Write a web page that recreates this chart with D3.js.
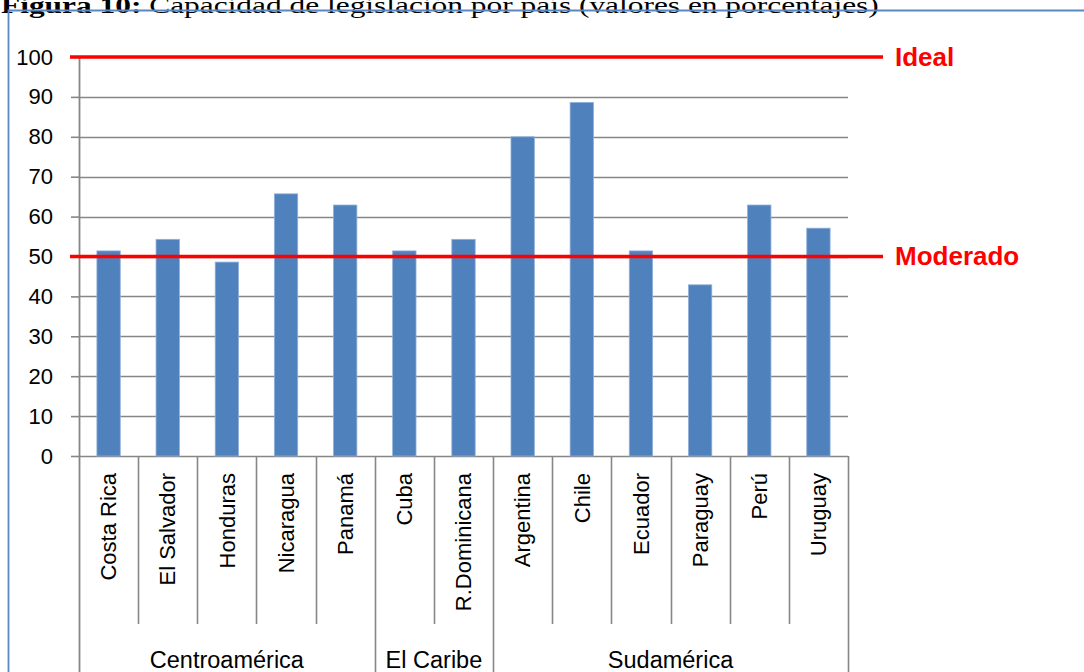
<!DOCTYPE html>
<html>
<head>
<meta charset="utf-8">
<script src="https://cdn.jsdelivr.net/npm/d3@7"></script>
<style>
  html, body { margin: 0; padding: 0; background: #fff; }
  svg { display: block; }
  text { font-family: "Liberation Sans", Arial, sans-serif; }
</style>
</head>
<body>
<svg id="chart" width="1084" height="672"></svg>
<script>
// Capacidad de legislación por país (%)
const categories = ["Costa Rica", "El Salvador", "Honduras", "Nicaragua", "Panamá",
                    "Cuba", "R.Dominicana",
                    "Argentina", "Chile", "Ecuador", "Paraguay", "Perú", "Uruguay"];
const values = [51.4, 54.3, 48.6, 65.7, 62.9, 51.4, 54.3, 80.0, 88.6, 51.4, 42.9, 62.9, 57.1];
const groupNames = ["Centroamérica", "El Caribe", "Sudamérica"];
const groupSizes = [5, 2, 6];
const yTicks = [0, 10, 20, 30, 40, 50, 60, 70, 80, 90, 100];
const refValues = [100, 50];
const refLabels = ["Ideal", "Moderado"];
const titleBold = "Figura 10:";
const titleRest = " Capacidad de legislación por país (valores en porcentajes)";

const W = 1084, H = 672;
const plot = { left: 79, right: 848, top: 57, bottom: 456 };
const svg = d3.select("#chart");

// Title (partly above the page edge)
const title = svg.append("text")
  .attr("x", 1).attr("y", 13)
  .style("font-family", "'Liberation Serif', 'Times New Roman', serif")
  .style("font-size", "24px").attr("fill", "#000");
title.append("tspan").attr("font-weight", "bold").text(titleBold);
title.append("tspan").text(titleRest);
const tw = title.node().getComputedTextLength();
title.attr("transform", `translate(1,0) scale(${878 / tw},1) translate(-1,0)`);

// Frame around the chart
svg.append("path")
  .attr("d", `M8.5,${H} L8.5,10.5 L${W},10.5`)
  .attr("fill", "none").attr("stroke", "#5b87c2").attr("stroke-width", 1.8);

// Scales
const x = d3.scaleBand().domain(categories).range([plot.left, plot.right]).padding(0);
const xBar = d3.scaleBand().domain(categories).range([plot.left, plot.right])
  .paddingInner(0.605).paddingOuter(0.3025);
const y = d3.scaleLinear().domain([0, 100]).range([plot.bottom, plot.top]);

// Horizontal gridlines
const gridColor = "#868686";
svg.append("g").selectAll("line")
  .data(yTicks.filter(t => t < 100))
  .join("line")
  .attr("x1", plot.left).attr("x2", plot.right)
  .attr("y1", d => Math.round(y(d)) + 0.5).attr("y2", d => Math.round(y(d)) + 0.5)
  .attr("stroke", gridColor).attr("stroke-width", 1.6);

// Y axis
const yAxis = svg.append("g")
  .attr("transform", `translate(${plot.left},0)`)
  .call(d3.axisLeft(y).tickValues(yTicks).tickSize(8).tickPadding(18).tickFormat(d3.format("d")));
yAxis.select(".domain").remove();
yAxis.selectAll(".tick line").attr("stroke", gridColor).attr("stroke-width", 1.6);
yAxis.selectAll(".tick text")
  .style("font-size", "22px").attr("fill", "#000")
  .style("font-family", "'Liberation Sans', Arial, sans-serif");

// Bars
svg.append("g").selectAll("rect")
  .data(categories)
  .join("rect")
  .attr("x", d => xBar(d))
  .attr("width", xBar.bandwidth())
  .attr("y", (d, i) => y(values[i]))
  .attr("height", (d, i) => y(0) - y(values[i]))
  .attr("fill", "#4f81bd")
  .attr("stroke", "#8fb0da").attr("stroke-width", 0.8);

// Vertical axis line (continues down as outer group border)
svg.append("line")
  .attr("x1", plot.left + 0.5).attr("x2", plot.left + 0.5)
  .attr("y1", plot.top).attr("y2", H)
  .attr("stroke", gridColor).attr("stroke-width", 1.8);

// Category separators below the axis
const boundaries = d3.range(1, categories.length + 1);
let cum = 0;
const groupEnds = groupSizes.map(s => (cum += s));
svg.append("g").selectAll("line")
  .data(boundaries)
  .join("line")
  .attr("x1", i => Math.round(plot.left + i * x.step()) + 0.5)
  .attr("x2", i => Math.round(plot.left + i * x.step()) + 0.5)
  .attr("y1", plot.bottom)
  .attr("y2", i => groupEnds.includes(i) ? H : 624)
  .attr("stroke", gridColor).attr("stroke-width", 1.6);

// Category labels (vertical)
svg.append("g").selectAll("text")
  .data(categories)
  .join("text")
  .attr("transform", d => `translate(${x(d) + x.bandwidth() / 2},473) rotate(-90)`)
  .attr("text-anchor", "end")
  .attr("dy", "0.35em")
  .style("font-size", "22px").attr("fill", "#000")
  .text(d => d);

// Group labels
let start = 0;
const groupSpans = groupSizes.map(s => { const g = [start, start + s]; start += s; return g; });
svg.append("g").selectAll("text")
  .data(groupNames)
  .join("text")
  .attr("x", (d, i) => plot.left + (groupSpans[i][0] + groupSpans[i][1]) / 2 * x.step())
  .attr("y", 668)
  .attr("text-anchor", "middle")
  .style("font-size", "23.5px").attr("fill", "#000")
  .text(d => d);

// Reference lines: Ideal and Moderado
const ref = svg.append("g");
ref.selectAll("line")
  .data(refValues)
  .join("line")
  .attr("x1", plot.left - 9).attr("x2", plot.right + 35)
  .attr("y1", d => y(d)).attr("y2", d => y(d))
  .attr("stroke", "#ff0000").attr("stroke-width", 3.5);
ref.selectAll("text")
  .data(refValues)
  .join("text")
  .attr("x", plot.right + 47)
  .attr("y", d => y(d))
  .attr("dy", "0.33em")
  .style("font-size", "26px").style("font-weight", "bold")
  .attr("fill", "#ff0000")
  .text((d, i) => refLabels[i]);
</script>
</body>
</html>
